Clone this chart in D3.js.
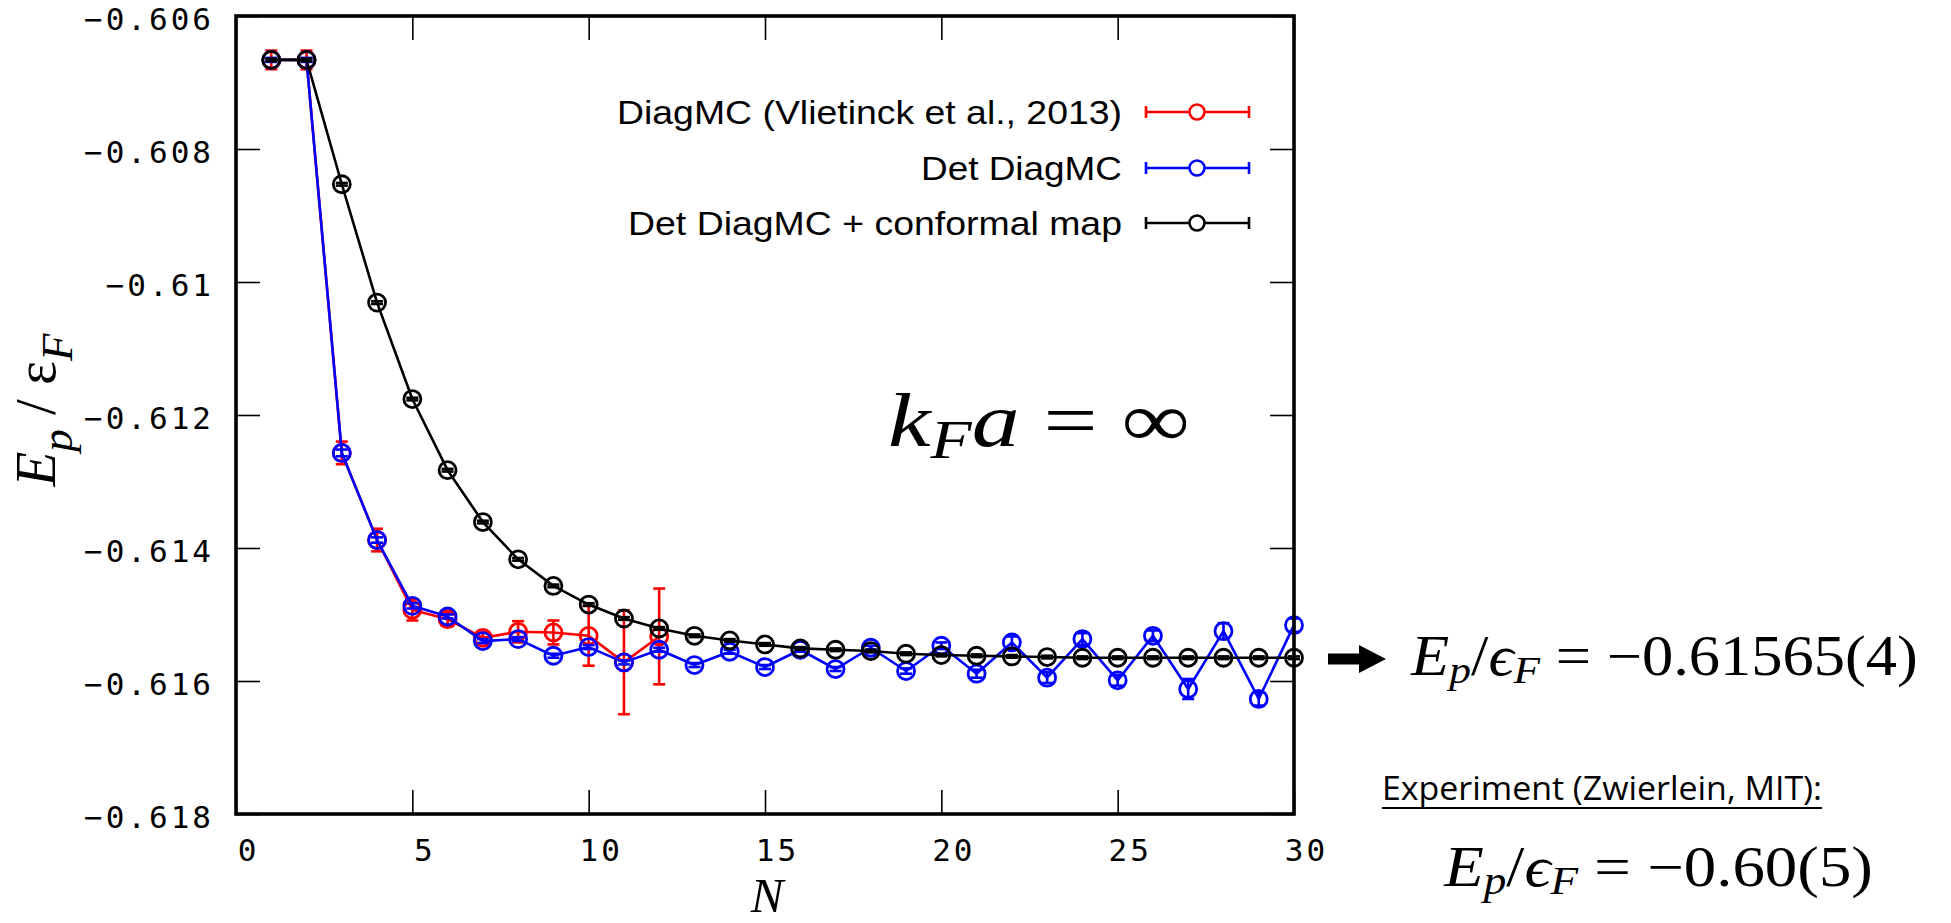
<!DOCTYPE html>
<html>
<head>
<meta charset="utf-8">
<script src="https://cdn.jsdelivr.net/npm/d3@7"></script>
<style>
  html, body { margin: 0; padding: 0; background: #fff; overflow: hidden; }
  svg { display: block; }
</style>
</head>
<body>
<svg id="chart" width="1951" height="923"></svg>
<script>
// ---- data -------------------------------------------------------------
// polaron energy E_p / eps_F versus diagram order N
const nDiagMC   = [1, 2, 3, 4, 5, 6, 7, 8, 9, 10, 11, 12];
const eDiagMC   = [-0.60666, -0.60666, -0.61257, -0.61388, -0.61493, -0.61507,
                   -0.61535, -0.61526, -0.61527, -0.61532, -0.61572, -0.61533];
const errDiagMC = [0.00014, 0.00014, 0.00017, 0.00017, 0.00016, 0.00010,
                   0.00008, 0.00016, 0.00018, 0.00045, 0.00078, 0.00072];

const nDet   = [1, 2, 3, 4, 5, 6, 7, 8, 9, 10, 11, 12, 13, 14, 15,
                16, 17, 18, 19, 20, 21, 22, 23, 24, 25, 26, 27, 28, 29, 30];
const eDet   = [-0.60666, -0.60666, -0.61257, -0.61388, -0.61487, -0.61503,
                -0.61540, -0.61537, -0.61562, -0.61549, -0.61572, -0.61553,
                -0.61576, -0.61556, -0.61579, -0.61553, -0.61582, -0.61550,
                -0.61585, -0.61547, -0.61589, -0.61542, -0.61595, -0.61537,
                -0.61599, -0.61532, -0.61612, -0.61525, -0.61627, -0.61516];
const errDet = [0.00003, 0.00003, 0.00005, 0.00004, 0.00004, 0.00003,
                0.00003, 0.00003, 0.00003, 0.00003, 0.00003, 0.00003,
                0.00003, 0.00003, 0.00003, 0.00003, 0.00003, 0.00003,
                0.00004, 0.00005, 0.00006, 0.00009, 0.00008, 0.00009,
                0.00008, 0.00008, 0.00015, 0.00012, 0.00010, 0.00010];

const nConf   = [1, 2, 3, 4, 5, 6, 7, 8, 9, 10, 11, 12, 13, 14, 15,
                 16, 17, 18, 19, 20, 21, 22, 23, 24, 25, 26, 27, 28, 29, 30];
const eConf   = [-0.60666, -0.60666, -0.60853, -0.61031, -0.61176, -0.61283,
                 -0.61361, -0.61417, -0.61457, -0.61485, -0.61506, -0.61521,
                 -0.61532, -0.61539, -0.61545, -0.61551, -0.61553, -0.61555,
                 -0.61559, -0.61561, -0.61562, -0.61563, -0.61564, -0.61565,
                 -0.61565, -0.61565, -0.61565, -0.61565, -0.61565, -0.61565];
const errConf = [0.00002, 0.00002, 0.00002, 0.00002, 0.00002, 0.00002,
                 0.00002, 0.00002, 0.00002, 0.00002, 0.00002, 0.00002,
                 0.00002, 0.00002, 0.00002, 0.00002, 0.00002, 0.00002,
                 0.00002, 0.00002, 0.00002, 0.00002, 0.00002, 0.00002,
                 0.00002, 0.00002, 0.00002, 0.00002, 0.00002, 0.00002];

const xTicks      = [0, 5, 10, 15, 20, 25, 30];
const xTickLabels = ["0", "5", "10", "15", "20", "25", "30"];
const yTicks      = [-0.606, -0.608, -0.61, -0.612, -0.614, -0.616, -0.618];
const yTickLabels = ["\u22120.606", "\u22120.608", "\u22120.61", "\u22120.612",
                     "\u22120.614", "\u22120.616", "\u22120.618"];

const seriesNames = ["DiagMC (Vlietinck et al., 2013)", "Det DiagMC",
                     "Det DiagMC + conformal map"];
const seriesColors = ["#ff0000", "#0000ff", "#000000"];

// ---- layout -----------------------------------------------------------
const svg = d3.select("#chart");
const L = 236, R = 1294, T = 16, B = 814;
const x = d3.scaleLinear().domain([0, 30]).range([L, R]);
const y = d3.scaleLinear().domain([-0.618, -0.606]).range([B, T]);

const tickFont = "'DejaVu Sans Mono', monospace";
const serif = "'Liberation Serif', 'DejaVu Serif', serif";

// ---- axes (ticks point inward, mirrored on all four sides) -------------
function styleAxis(g) {
  g.select(".domain").remove();
  g.selectAll(".tick line").attr("stroke", "#000").attr("stroke-width", 1.6);
}

const gx = svg.append("g").attr("transform", `translate(0,${B})`)
  .call(d3.axisBottom(x).tickValues(xTicks).tickSizeInner(-24).tickSizeOuter(0)
        .tickFormat((d, i) => xTickLabels[i]));
styleAxis(gx);
gx.selectAll(".tick text")
  .attr("x", 12).attr("y", 47).attr("dy", 0)
  .attr("fill", "#000")
  .style("font-family", tickFont).style("font-size", "31px")
  .style("letter-spacing", "3px");

const gx2 = svg.append("g").attr("transform", `translate(0,${T})`)
  .call(d3.axisTop(x).tickValues(xTicks).tickSizeInner(-24).tickSizeOuter(0)
        .tickFormat(() => ""));
styleAxis(gx2);

const gy = svg.append("g").attr("transform", `translate(${L},0)`)
  .call(d3.axisLeft(y).tickValues(yTicks).tickSizeInner(-24).tickSizeOuter(0)
        .tickFormat((d, i) => yTickLabels[i]));
styleAxis(gy);
gy.selectAll(".tick text")
  .attr("x", -22).attr("y", 13).attr("dy", 0)
  .attr("text-anchor", "end").attr("fill", "#000")
  .style("font-family", tickFont).style("font-size", "31px")
  .style("letter-spacing", "3px");

const gy2 = svg.append("g").attr("transform", `translate(${R},0)`)
  .call(d3.axisRight(y).tickValues(yTicks).tickSizeInner(-24).tickSizeOuter(0)
        .tickFormat(() => ""));
styleAxis(gy2);

// ---- series: line, error bars, open circles ----------------------------
const plot = svg.append("g");
const CAP = 6, RAD = 8.5;

function drawSeries(ns, es, errs, color) {
  const pts = ns.map((n, i) => ({ n, e: es[i], err: errs[i] }));
  const g = plot.append("g");
  g.append("path").datum(pts)
    .attr("d", d3.line().x(d => x(d.n)).y(d => y(d.e)))
    .attr("fill", "none").attr("stroke", color).attr("stroke-width", 2.6)
    .attr("stroke-linejoin", "round");
  const eb = g.selectAll("g.eb").data(pts).join("g").attr("class", "eb")
    .attr("stroke", color).attr("stroke-width", 2.6);
  eb.append("line")
    .attr("x1", d => x(d.n)).attr("x2", d => x(d.n))
    .attr("y1", d => y(d.e - d.err)).attr("y2", d => y(d.e + d.err));
  eb.append("line")
    .attr("x1", d => x(d.n) - CAP).attr("x2", d => x(d.n) + CAP)
    .attr("y1", d => y(d.e - d.err)).attr("y2", d => y(d.e - d.err));
  eb.append("line")
    .attr("x1", d => x(d.n) - CAP).attr("x2", d => x(d.n) + CAP)
    .attr("y1", d => y(d.e + d.err)).attr("y2", d => y(d.e + d.err));
  g.selectAll("circle").data(pts).join("circle")
    .attr("cx", d => x(d.n)).attr("cy", d => y(d.e)).attr("r", RAD)
    .attr("fill", "none").attr("stroke", color).attr("stroke-width", 2.8);
}

drawSeries(nDiagMC, eDiagMC, errDiagMC, seriesColors[0]);
drawSeries(nDet, eDet, errDet, seriesColors[1]);
drawSeries(nConf, eConf, errConf, seriesColors[2]);

// ---- frame ------------------------------------------------------------
svg.append("rect")
  .attr("x", L).attr("y", T).attr("width", R - L).attr("height", B - T)
  .attr("fill", "none").attr("stroke", "#000").attr("stroke-width", 3.6);

// ---- legend -----------------------------------------------------------
const legendRows = [112, 168, 223];
const legendTextWidths = [505, 201, 494];
const legend = svg.append("g");
seriesNames.forEach((name, i) => {
  const yy = legendRows[i];
  legend.append("text")
    .attr("x", 1122).attr("y", yy + 12)
    .attr("text-anchor", "end")
    .attr("textLength", legendTextWidths[i]).attr("lengthAdjust", "spacingAndGlyphs")
    .style("font-family", "'Liberation Sans', Arial, sans-serif")
    .style("font-size", "34px").attr("fill", "#000")
    .text(name);
  const s = legend.append("g").attr("stroke", seriesColors[i]).attr("stroke-width", 2.6);
  s.append("line").attr("x1", 1146).attr("x2", 1249).attr("y1", yy).attr("y2", yy);
  s.append("line").attr("x1", 1146).attr("x2", 1146).attr("y1", yy - 6).attr("y2", yy + 6);
  s.append("line").attr("x1", 1249).attr("x2", 1249).attr("y1", yy - 6).attr("y2", yy + 6);
  s.append("circle").attr("cx", 1197).attr("cy", yy).attr("r", 7.5)
    .attr("fill", "#fff").attr("stroke-width", 2.6);
});

// ---- axis titles --------------------------------------------------------
svg.append("text")
  .attr("x", 767).attr("y", 912.3).attr("text-anchor", "middle")
  .style("font-family", serif).style("font-size", "49px").style("font-style", "italic")
  .text("N");

const yl = svg.append("text")
  .attr("transform", "translate(55,410) rotate(-90)")
  .attr("text-anchor", "middle")
  .style("font-family", serif).style("font-size", "57px");
yl.append("tspan").style("font-style", "italic").text("E");
yl.append("tspan").style("font-style", "italic").style("font-size", "45px").attr("dy", 17).text("p");
yl.append("tspan").attr("dy", -17).text(" / ");
yl.append("tspan").text("\u03B5");
yl.append("tspan").style("font-style", "italic").style("font-size", "45px").attr("dy", 17).text("F");

// ---- math annotations ---------------------------------------------------
// parts: [text, italic, subscript]
function mathText(parts, x0, x1, baseline, size) {
  const t = svg.append("text").attr("x", 0).attr("y", baseline)
    .style("font-family", serif).style("font-size", size + "px").attr("fill", "#000");
  let inSub = false;
  parts.forEach(([txt, ital, sub]) => {
    const sp = t.append("tspan").text(txt);
    if (ital) sp.style("font-style", "italic");
    if (sub) {
      sp.style("font-size", Math.round(size * 0.7) + "px");
      if (!inSub) sp.attr("dy", Math.round(size * 0.15));
      inSub = true;
    } else if (inSub) {
      sp.attr("dy", -Math.round(size * 0.15));
      inSub = false;
    }
  });
  const bb = t.node().getBBox();
  const s = (x1 - x0) / bb.width;
  t.attr("transform", `translate(${x0},0) scale(${s},1) translate(${-bb.x},0)`);
  return t;
}

mathText([["k", true], ["F", true, true], ["a", true], [" = \u221E", false]],
         888, 1190, 446, 77);

mathText([["E", true], ["p", true, true], ["/", false], ["\u03F5", true], ["F", true, true],
          [" = \u22120.61565(4)", false]], 1410, 1918, 675, 56);

mathText([["E", true], ["p", true, true], ["/", false], ["\u03F5", true], ["F", true, true],
          [" = \u22120.60(5)", false]], 1443, 1873, 886, 56);

// arrow pointing at the converged value
svg.append("path")
  .attr("d", d3.line()([[1328, 653.5], [1359, 653.5], [1359, 645], [1386, 659],
                        [1359, 673], [1359, 664.5], [1328, 664.5]]) + "Z")
  .attr("fill", "#000");

// experiment reference
svg.append("text")
  .attr("x", 1382).attr("y", 800)
  .attr("textLength", 440).attr("lengthAdjust", "spacingAndGlyphs")
  .style("font-family", "'Open Sans', 'Noto Sans', sans-serif")
  .style("font-size", "33px").attr("fill", "#000")
  .text("Experiment (Zwierlein, MIT):");
svg.append("line").attr("x1", 1382).attr("x2", 1822).attr("y1", 808).attr("y2", 808)
  .attr("stroke", "#000").attr("stroke-width", 2);
</script>
</body>
</html>
